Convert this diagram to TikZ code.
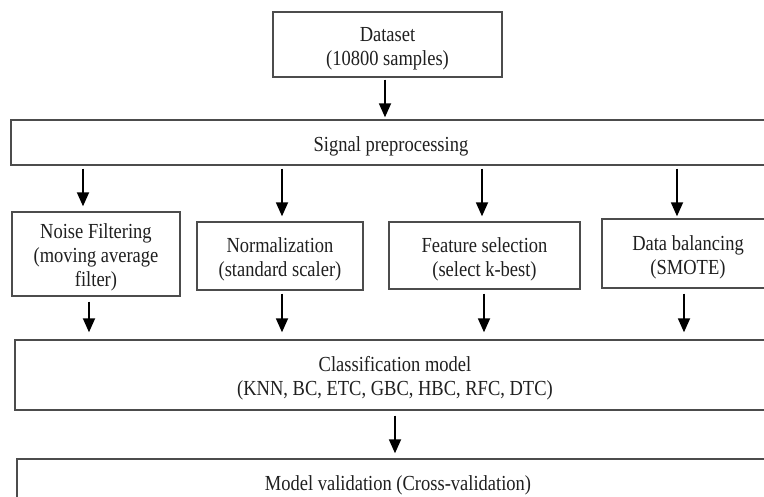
\documentclass[tikz,border=0pt]{standalone}
\usepackage{graphicx}
\usepackage{fontspec}
\setmainfont{Liberation Serif}
\usetikzlibrary{arrows.meta,calc}
\newcommand\boxtxt[1]{\raisebox{-4pt}[\height][\depth]{\scalebox{1}[1.16]{\begin{tabular}{@{}c@{}}#1\end{tabular}}}}
\begin{document}
\begin{tikzpicture}[x=1pt,y=-1pt,
  box/.style={draw=black!70,line width=1.4pt,rectangle,inner sep=0pt,align=center,
    font=\fontsize{18.5}{20.6}\selectfont,text=black!88},
  arr/.style={line width=1.8pt,-{Triangle[length=14pt,width=12pt]}}]
\useasboundingbox (0,0) rectangle (764,496);
\clip (0,0) rectangle (764,496);
\node[box,minimum width=229pt,minimum height=65pt] (ds) at (387.5,44.5) {\boxtxt{Dataset\\(10800 samples)}};
\node[box,minimum width=760pt,minimum height=45pt] (sig) at (391,142.5) {\boxtxt{Signal preprocessing}};
\node[box,minimum width=168pt,minimum height=84pt] (nf) at (96,254) {\boxtxt{Noise Filtering\\(moving average\\filter)}};
\node[box,minimum width=166pt,minimum height=68pt] (nm) at (280,256) {\boxtxt{Normalization\\(standard scaler)}};
\node[box,minimum width=191pt,minimum height=67pt] (fs) at (484.5,255.5) {\boxtxt{Feature selection\\(select k-best)}};
\node[box,minimum width=172pt,minimum height=69pt] (db) at (688,253.5) {\boxtxt{Data balancing\\(SMOTE)}};
\node[box,minimum width=760pt,minimum height=70pt] (cm) at (395,375) {\boxtxt{Classification model\\(KNN, BC, ETC, GBC, HBC, RFC, DTC)}};
\node[box,minimum width=762pt,minimum height=46pt] (mv) at (398,482) {\boxtxt{Model validation (Cross-validation)}};
\coordinate (x0) at (385,0);
\coordinate (x1) at (83,0);
\coordinate (x2) at (282,0);
\coordinate (x3) at (482,0);
\coordinate (x4) at (677,0);
\coordinate (y1) at (89,0);
\coordinate (y3) at (484,0);
\coordinate (y4) at (684,0);
\coordinate (x5) at (395,0);
\draw[arr,shorten <=2pt,shorten >=2pt] (ds.south -| x0) -- (sig.north -| x0);
\draw[arr,shorten <=3pt,shorten >=5pt] (sig.south -| x1) -- (nf.north -| x1);
\draw[arr,shorten <=3pt,shorten >=5pt] (sig.south -| x2) -- (nm.north -| x2);
\draw[arr,shorten <=3pt,shorten >=5pt] (sig.south -| x3) -- (fs.north -| x3);
\draw[arr,shorten <=3pt,shorten >=2pt] (sig.south -| x4) -- (db.north -| x4);
\draw[arr,shorten <=5pt,shorten >=7pt] (nf.south -| y1) -- (cm.north -| y1);
\draw[arr,shorten <=3pt,shorten >=7pt] (nm.south -| x2) -- (cm.north -| x2);
\draw[arr,shorten <=4pt,shorten >=7pt] (fs.south -| y3) -- (cm.north -| y3);
\draw[arr,shorten <=5pt,shorten >=7pt] (db.south -| y4) -- (cm.north -| y4);
\draw[arr,shorten <=5pt,shorten >=5pt] (cm.south -| x5) -- (mv.north -| x5);
\end{tikzpicture}
\end{document}
